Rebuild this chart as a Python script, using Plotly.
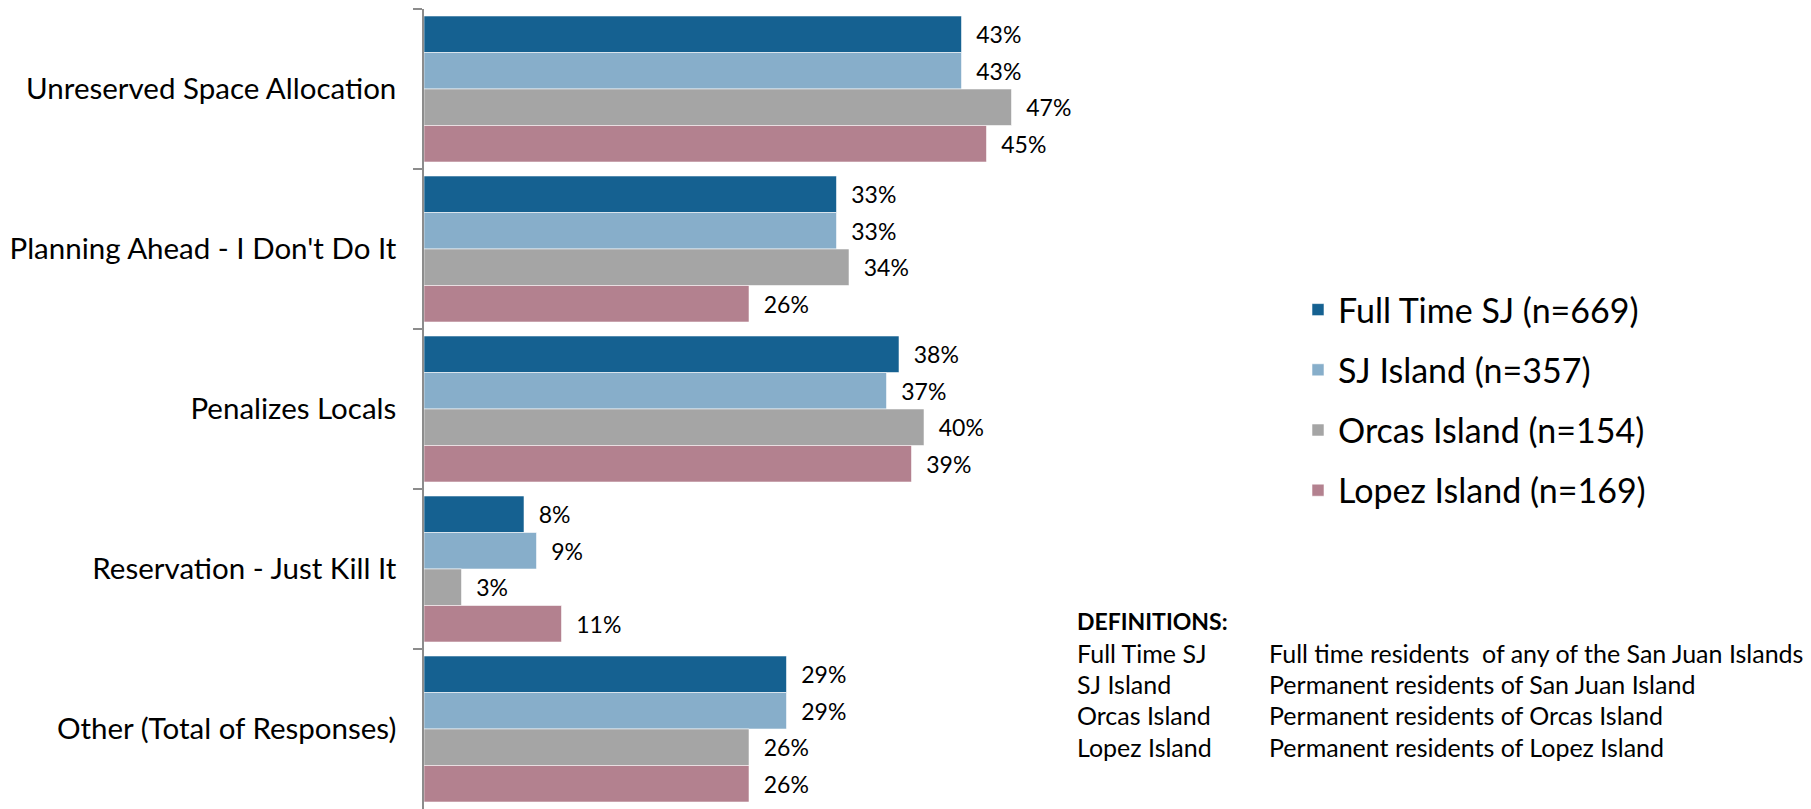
import plotly.graph_objects as go

# ---- data ----
categories = [
    "Unreserved Space Allocation",
    "Planning Ahead - I Don't Do It",
    "Penalizes Locals",
    "Reservation - Just Kill It",
    "Other (Total of Responses)",
]
series_names = [
    "Full Time SJ (n=669)",
    "SJ Island (n=357)",
    "Orcas Island (n=154)",
    "Lopez Island (n=169)",
]
full_time_sj = [43, 33, 38, 8, 29]
sj_island = [43, 33, 37, 9, 29]
orcas_island = [47, 34, 40, 3, 26]
lopez_island = [45, 26, 39, 11, 26]

def_terms = ["Full Time SJ", "SJ Island", "Orcas Island", "Lopez Island"]
def_texts = [
    "Full time residents \u00a0of any of the San Juan Islands",
    "Permanent residents of San Juan Island",
    "Permanent residents of Orcas Island",
    "Permanent residents of Lopez Island",
]

# ---- style ----
colors = ["#156191", "#87AECA", "#A5A5A5", "#B3818F"]
FONT = "Lato, 'Open Sans', sans-serif"
W, H = 1811, 809
L, R, T, B = 424, 762, 9, 0
PW, PH = W - L - R, H - T - B


def px_x(px):
    return (px - L) / PW


def px_y(py):
    return (H - B - py) / PH


fig = go.Figure()
for name, vals, col in zip(series_names,
                           [full_time_sj, sj_island, orcas_island, lopez_island],
                           colors):
    fig.add_trace(go.Bar(
        y=categories, x=vals, name=name, orientation="h",
        marker=dict(color=col, line=dict(color="rgba(255,255,255,0.55)", width=1)),
        text=[f"\u00a0\u00a0{v}%" for v in vals], textposition="outside",
        textfont=dict(family=FONT, size=23, color="#000000"),
        constraintext="none", cliponaxis=False, legendgroup=name,
        hoverinfo="x+y+name",
    ))

fig.update_layout(
    width=W, height=H,
    margin=dict(l=L, r=R, t=T, b=B, pad=0),
    barmode="group", bargap=0.0875, bargroupgap=0,
    plot_bgcolor="white", paper_bgcolor="white",
    font=dict(family=FONT, color="#000000"),
    showlegend=True,
    legend=dict(
        xref="container", yref="container",
        x=1298 / W, y=1 - 400 / H, xanchor="left", yanchor="middle",
        font=dict(family=FONT, size=34, color="#000000"),
        tracegroupgap=13, traceorder="grouped",
        bgcolor="rgba(0,0,0,0)",
    ),
    xaxis=dict(range=[0, 50], visible=False, showgrid=False, zeroline=False),
    yaxis=dict(
        autorange="reversed", showline=True, linecolor="#8C8C8C", linewidth=1.5,
        ticks="outside", tickson="boundaries", ticklen=9, tickcolor="#8C8C8C",
        tickwidth=1.5, ticklabelstandoff=20,
        tickfont=dict(family=FONT, size=29.5, color="#000000"),
        showgrid=False, zeroline=False,
    ),
)

# definitions block
fig.add_annotation(
    xref="paper", yref="paper", x=px_x(1075), y=px_y(621),
    xanchor="left", yanchor="middle", showarrow=False, align="left",
    text="<b>DEFINITIONS:</b>", font=dict(family=FONT, size=23, color="#000000"),
)
row_y = [653, 684, 715, 747]
for term, desc, yy in zip(def_terms, def_texts, row_y):
    fig.add_annotation(
        xref="paper", yref="paper", x=px_x(1075), y=px_y(yy),
        xanchor="left", yanchor="middle", showarrow=False, align="left",
        text=term, font=dict(family=FONT, size=25, color="#000000"),
    )
    fig.add_annotation(
        xref="paper", yref="paper", x=px_x(1267), y=px_y(yy),
        xanchor="left", yanchor="middle", showarrow=False, align="left",
        text=desc, font=dict(family=FONT, size=25, color="#000000"),
    )

fig.write_html(
    "out.html",
    config={"displayModeBar": False},
    post_script="document.body.style.margin='0';document.body.style.overflow='hidden';",
)
